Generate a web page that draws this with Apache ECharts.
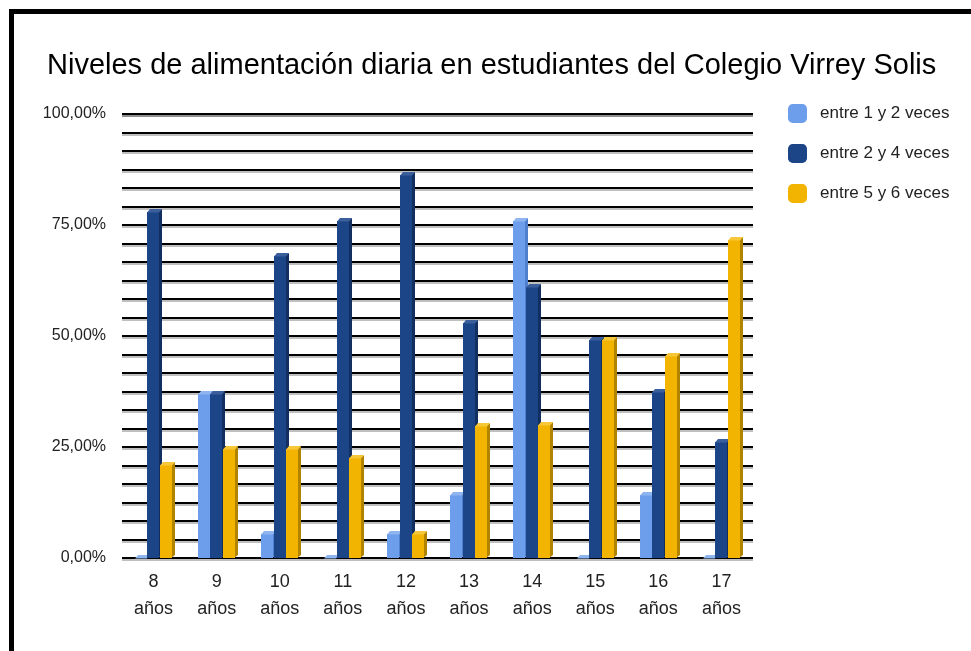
<!DOCTYPE html>
<html>
<head>
<meta charset="utf-8">
<script src="https://cdn.jsdelivr.net/npm/echarts@6/dist/echarts.min.js"></script>
<style>
  html, body { margin: 0; padding: 0; background: #fff; }
  #frame { position: absolute; left: 9px; top: 9px; width: 962px; height: 642px;
           border-top: 5px solid #000; border-left: 5px solid #000; box-sizing: border-box; }
  #chart { position: absolute; left: 0; top: 0; width: 971px; height: 651px; }
</style>
</head>
<body>
<div id="frame"></div>
<div id="chart"></div>
<script>
// categories (ages) and series values, in fractions of 1
var ages = ['8\naños', '9\naños', '10\naños', '11\naños', '12\naños',
            '13\naños', '14\naños', '15\naños', '16\naños', '17\naños'];
var seriesNames = ['entre 1 y 2 veces', 'entre 2 y 4 veces', 'entre 5 y 6 veces'];
var entre1y2 = [0, 0.37, 0.055, 0, 0.055, 0.143, 0.76, 0, 0.143, 0];
var entre2y4 = [0.78, 0.37, 0.68, 0.76, 0.863, 0.53, 0.61, 0.49, 0.375, 0.262];
var entre5y6 = [0.21, 0.245, 0.245, 0.225, 0.055, 0.298, 0.30, 0.49, 0.455, 0.717];
var yTicks = [0, 0.25, 0.5, 0.75, 1];

var colors = [
  { front: '#6d9eeb', side: '#4f7fcf', top: '#8fb5f0' },
  { front: '#1c4587', side: '#122f5f', top: '#3a5f9c' },
  { front: '#f2b400', side: '#b08300', top: '#f7c73a' }
];

var PITCH = 12.5, DEPTH = 3;

// front face + right side + top face, so the bars look like the 3D ones
function make3dBar(k) {
  return function (params, api) {
    var cat = api.value(0);
    var val = api.value(1);
    var base = api.coord([cat, 0]);
    var topPt = api.coord([cat, val]);
    var x = Math.round(base[0] - 1.5 * PITCH + k * PITCH);
    var w = 12;
    var y0 = Math.round(base[1]);
    var y1 = Math.round(topPt[1]);
    var c = colors[k];
    return {
      type: 'group',
      children: [
        { type: 'polygon', shape: { points: [[x + w - 1, y1], [x + w + DEPTH, y1 - DEPTH], [x + w + DEPTH, y0 - DEPTH], [x + w - 1, y0]] },
          style: { fill: c.side } },
        { type: 'rect', shape: { x: x, y: y1, width: w, height: y0 - y1 },
          style: { fill: c.front } },
        { type: 'polygon', shape: { points: [[x, y1 + 0.5], [x + DEPTH, y1 - DEPTH], [x + w + DEPTH, y1 - DEPTH], [x + w, y1 + 0.5]] },
          style: { fill: c.top } }
      ]
    };
  };
}

function toPairs(arr) {
  return arr.map(function (v, i) { return [i, v]; });
}

var chart = echarts.init(document.getElementById('chart'));
chart.setOption({
  animation: false,
  title: {
    text: 'Niveles de alimentación diaria en estudiantes del Colegio Virrey Solis',
    left: 42, top: 46,
    textStyle: { fontFamily: 'Liberation Sans, Arial', fontSize: 29, fontWeight: 'normal', color: '#000' }
  },
  legend: {
    orient: 'vertical',
    left: 788, top: 104, padding: 0,
    itemWidth: 19, itemHeight: 19, itemGap: 21,
    icon: 'roundRect',
    data: seriesNames,
    textStyle: { fontFamily: 'Liberation Sans, Arial', fontSize: 17, color: '#222', padding: [0, 0, 0, 8] }
  },
  grid: { left: 122, right: 218, top: 114, bottom: 93, containLabel: false },
  xAxis: {
    type: 'category',
    data: ages,
    boundaryGap: true,
    axisLine: { show: false },
    axisTick: { show: false },
    axisLabel: { margin: 11, fontFamily: 'Liberation Sans, Arial', fontSize: 18, color: '#222', lineHeight: 27 }
  },
  yAxis: {
    type: 'value',
    min: 0, max: 1, interval: 1 / 24,
    axisLine: { show: false },
    axisTick: { show: false },
    axisLabel: {
      margin: 16,
      fontFamily: 'Liberation Sans, Arial', fontSize: 16, color: '#222',
      formatter: function (v) {
        for (var i = 0; i < yTicks.length; i++) {
          if (Math.abs(v - yTicks[i]) < 1e-6) {
            return (yTicks[i] * 100).toFixed(2).replace('.', ',') + '%';
          }
        }
        return '';
      }
    },
    splitLine: {
      lineStyle: { color: '#000', width: 2, shadowColor: 'rgba(0,0,0,0.25)', shadowOffsetY: 2 }
    }
  },
  series: [entre1y2, entre2y4, entre5y6].map(function (arr, k) {
    return {
      name: seriesNames[k],
      type: 'custom',
      renderItem: make3dBar(k),
      itemStyle: { color: colors[k].front },
      encode: { x: 0, y: 1 },
      data: toPairs(arr)
    };
  })
});
</script>
</body>
</html>
